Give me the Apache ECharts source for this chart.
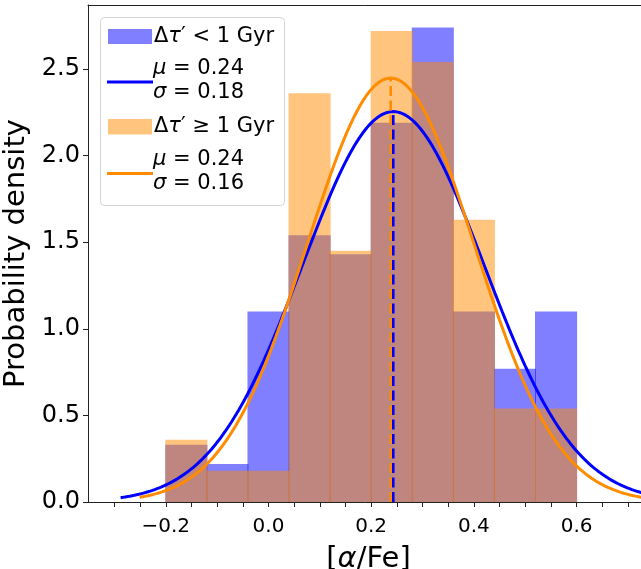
<!DOCTYPE html>
<html>
<head>
<meta charset="utf-8">
<script src="https://cdn.jsdelivr.net/npm/echarts@6/dist/echarts.min.js"></script>
<style>
  html, body { margin: 0; padding: 0; background: #ffffff; }
  #chart { width: 641px; height: 569px; }
</style>
</head>
<body>
<div id="chart"></div>
<script>
// Histogram bin edges shared by both samples
const binEdges = [-0.2, -0.12, -0.04, 0.04, 0.12, 0.2, 0.28, 0.36, 0.44, 0.52, 0.6];
// Normalised counts per bin (probability density)
const youngDensity = [0.33, 0.22, 1.10, 1.54, 1.43, 2.19, 2.74, 1.10, 0.77, 1.10];
const oldDensity = [0.36, 0.18, 0.18, 2.36, 1.45, 2.72, 2.54, 1.63, 0.54, 0.54];
// Gaussian fits: [young, old]
const fitMu = [0.243, 0.238];
const fitSigma = [0.177, 0.163];
const groupLabels = ['< 1 Gyr', '≥ 1 Gyr'];
// Axis ticks
const xTickValues = [-0.3, -0.25, -0.2, -0.15, -0.1, -0.05, 0, 0.05, 0.1, 0.15, 0.2, 0.25, 0.3, 0.35, 0.4, 0.45, 0.5, 0.55, 0.6, 0.65, 0.7];
const xLabelValues = [-0.2, 0, 0.2, 0.4, 0.6];
const yTickValues = [0, 0.5, 1, 1.5, 2, 2.5];

const BLUE = '#0000ff';
const ORANGE = '#ff8c00';
const BLUE_FILL = 'rgba(0,0,255,0.5)';
const ORANGE_FILL = 'rgba(255,140,0,0.5)';
const FONT = 'DejaVu Sans';

const X_MIN = -0.3515, X_MAX = 0.741;
const Y_MIN = 0, Y_MAX = 2.8695;

// Normal probability density sampled over mu +/- 3 sigma
function normalCurve(mu, sigma) {
  const pts = [];
  const n = 240;
  const a = mu - 3 * sigma, b = mu + 3 * sigma;
  for (let i = 0; i <= n; i++) {
    const x = a + (b - a) * i / n;
    const z = (x - mu) / sigma;
    pts.push([x, Math.exp(-0.5 * z * z) / (sigma * Math.sqrt(2 * Math.PI))]);
  }
  return pts;
}
function normalPeak(sigma) {
  return 1 / (sigma * Math.sqrt(2 * Math.PI));
}

function histogramSeries(name, values, fill, z) {
  return {
    type: 'custom',
    name: name,
    z: z,
    data: values.map((v, i) => [binEdges[i], binEdges[i + 1], v]),
    encode: { x: [0, 1], y: 2 },
    renderItem: function (params, api) {
      const top = api.coord([api.value(0), api.value(2)]);
      const base = api.coord([api.value(1), 0]);
      // half-pixel overhang so neighbouring bars share a seam
      return {
        type: 'rect',
        shape: { x: top[0] - 0.5, y: top[1], width: base[0] - top[0] + 1, height: base[1] - top[1] },
        style: { fill: fill }
      };
    }
  };
}

function fmtTick(v) {
  const s = Math.abs(v).toFixed(1);
  return v < -1e-9 ? '\u2212' + s : s;
}

const chart = echarts.init(document.getElementById('chart'), null, { renderer: 'canvas' });

const richBase = {
  r: { fontFamily: FONT, fontSize: 21, color: '#000' },
  i: { fontFamily: FONT, fontSize: 21, fontStyle: 'italic', color: '#000' }
};
function legendText(x, y, text) {
  return {
    type: 'text', x: x, y: y, z: 100,
    style: { text: text, rich: richBase, align: 'left', verticalAlign: 'middle', fontFamily: FONT, fontSize: 21, fill: '#000' }
  };
}

const option = {
  animation: false,
  backgroundColor: '#ffffff',
  grid: { left: 88, top: 5, width: 561, height: 497, containLabel: false, outerBoundsMode: 'none' },
  xAxis: [{
    type: 'value',
    min: X_MIN, max: X_MAX,
    name: '{r|[}{i|α}{r|/Fe]}',
    nameLocation: 'middle',
    nameGap: 43,
    nameTextStyle: {
      fontFamily: FONT, fontSize: 29, color: '#000',
      rich: {
        r: { fontFamily: FONT, fontSize: 29, color: '#000' },
        i: { fontFamily: FONT, fontSize: 29, fontStyle: 'italic', color: '#000' }
      }
    },
    axisLine: { show: true, onZero: false, lineStyle: { color: '#222', width: 1 } },
    axisTick: { show: true, inside: false, length: 5, customValues: xTickValues, lineStyle: { color: '#222', width: 1 } },
    axisLabel: { customValues: xLabelValues, formatter: fmtTick, fontFamily: FONT, fontSize: 20, color: '#000', margin: 15 },
    splitLine: { show: false }
  }, {
    type: 'value',
    position: 'top',
    min: X_MIN, max: X_MAX,
    axisLine: { show: true, onZero: false, lineStyle: { color: '#222', width: 1 } },
    axisTick: { show: false },
    axisLabel: { show: false },
    splitLine: { show: false }
  }],
  yAxis: {
    type: 'value',
    min: Y_MIN, max: Y_MAX,
    name: 'Probability density',
    nameLocation: 'middle',
    nameGap: 42,
    nameTextStyle: { fontFamily: FONT, fontSize: 29, color: '#000' },
    axisLine: { show: true, onZero: false, lineStyle: { color: '#222', width: 1 } },
    axisTick: { show: true, inside: false, length: 5, customValues: yTickValues, lineStyle: { color: '#222', width: 1 } },
    axisLabel: { customValues: yTickValues, formatter: fmtTick, fontFamily: FONT, fontSize: 24, color: '#000', margin: 8 },
    splitLine: { show: false }
  },
  series: [
    histogramSeries('young', youngDensity, BLUE_FILL, 1),
    histogramSeries('old', oldDensity, ORANGE_FILL, 2),
    {
      type: 'line', name: 'young fit', z: 3,
      data: normalCurve(fitMu[0], fitSigma[0]),
      showSymbol: false, symbol: 'none', smooth: false, clip: true,
      lineStyle: { color: BLUE, width: 3 }
    },
    {
      type: 'line', name: 'old fit', z: 4,
      data: normalCurve(fitMu[1], fitSigma[1]),
      showSymbol: false, symbol: 'none', smooth: false, clip: true,
      lineStyle: { color: ORANGE, width: 3 }
    },
    {
      type: 'line', name: 'old mean', z: 5,
      data: [[fitMu[1], 0], [fitMu[1], normalPeak(fitSigma[1])]],
      showSymbol: false, symbol: 'none',
      lineStyle: { color: ORANGE, width: 2.6, type: [10, 4.5] }
    },
    {
      type: 'line', name: 'young mean', z: 6,
      data: [[fitMu[0], 0], [fitMu[0], normalPeak(fitSigma[0])]],
      showSymbol: false, symbol: 'none',
      lineStyle: { color: BLUE, width: 2.6, type: [10, 4.5] }
    }
  ],
  graphic: [
    {
      type: 'rect', z: 99,
      shape: { x: 100.5, y: 17.5, width: 184, height: 188, r: 4 },
      style: { fill: 'rgba(255,255,255,0.8)', stroke: '#d4d4d4', lineWidth: 1 }
    },
    { type: 'rect', z: 100, shape: { x: 108, y: 29, width: 44, height: 15 }, style: { fill: BLUE_FILL } },
    legendText(154, 37, '{r|Δ}{i|τ}{r|′ ' + groupLabels[0] + '}'),
    { type: 'line', z: 100, shape: { x1: 107, y1: 82, x2: 153, y2: 82 }, style: { stroke: BLUE, lineWidth: 3 } },
    legendText(153, 68.5, '{i|μ}{r| = ' + fitMu[0].toFixed(2) + '}'),
    legendText(153, 93, '{i|σ}{r| = ' + fitSigma[0].toFixed(2) + '}'),
    { type: 'rect', z: 100, shape: { x: 108, y: 119, width: 44, height: 15.5 }, style: { fill: ORANGE_FILL } },
    legendText(154, 127, '{r|Δ}{i|τ}{r|′ ' + groupLabels[1] + '}'),
    { type: 'line', z: 100, shape: { x1: 107, y1: 173.5, x2: 153, y2: 173.5 }, style: { stroke: ORANGE, lineWidth: 3 } },
    legendText(153, 159.5, '{i|μ}{r| = ' + fitMu[1].toFixed(2) + '}'),
    legendText(153, 184, '{i|σ}{r| = ' + fitSigma[1].toFixed(2) + '}')
  ]
};

chart.setOption(option);
</script>
</body>
</html>
